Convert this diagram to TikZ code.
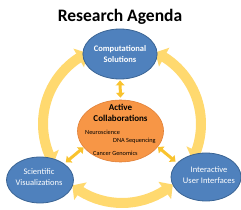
\documentclass[tikz,border=0pt]{standalone}
\usepackage{fontspec}
\setmainfont{Carlito}
\usetikzlibrary{arrows.meta,bending,calc,shapes.geometric}
\definecolor{blueF}{HTML}{4F81BD}
\definecolor{blueD}{HTML}{3A6494}
\definecolor{orangeF}{HTML}{F79646}
\definecolor{orangeD}{HTML}{E07F35}
\definecolor{ringY}{HTML}{FFD96F}
\definecolor{smallY}{HTML}{F9C32E}
\tikzset{
  bluebox/.style={ellipse, fill=blueF, draw=blueD, line width=0.8pt, inner sep=0pt},
  ring/.style={draw=ringY, line width=10pt, {Triangle[width=21pt,length=10pt]}-{Triangle[width=21pt,length=10pt]}},
  smallarrow/.style={draw=smallY, line width=3pt, {Triangle[width=8.5pt,length=5pt]}-{Triangle[width=8.5pt,length=5pt]}},
  wtext/.style={text=white, align=center, font=\fontsize{8.5}{11}\selectfont},
  small/.style={font=\fontsize{6.3}{7}\selectfont, inner sep=0pt}
}
\begin{document}
\begin{tikzpicture}[x=1pt,y=1pt]
\useasboundingbox (0,0) rectangle (241,209);
\coordinate (cc) at (122,85);
% big ring arcs
\draw[ring] ($(cc)+(116:79)$) arc[start angle=116, end angle=210, radius=79];
\draw[ring] ($(cc)+(231:79)$) arc[start angle=231, end angle=310, radius=79];
\draw[ring] ($(cc)+(333:79)$) arc[start angle=333, end angle=425, radius=79];
% title
\node (title) at (120,192) {\fontsize{17.5}{20}\selectfont\bfseries Research Agenda};
% ellipses
\node[bluebox, minimum width=66pt, minimum height=50pt, wtext] (top) at (120,155) {\bfseries Computational\\\bfseries Solutions};
\node[bluebox, minimum width=67pt, minimum height=46pt] (left) at (40,29) {};
\node[wtext] (lefttext) at (39,31.5) {Scientific\\Visualizations};
\node[bluebox, minimum width=70pt, minimum height=48pt] (right) at (206,32) {};
\node[wtext] (righttext) at (209,34) {Interactive\\User Interfaces};
\node[ellipse, fill=orangeF, draw=orangeD, line width=0.6pt, minimum width=86pt, minimum height=62pt, inner sep=0pt] (mid) at (120.5,78) {};
\node[align=center, font=\fontsize{9}{10.5}\selectfont\bfseries] (midtitle) at (120.5,96) {Active\\Collaborations};
\node[small, anchor=west] (neuro) at (85,77) {Neuroscience};
\node[small, anchor=west] (dna) at (113,68) {DNA Sequencing};
\node[small, anchor=west] (cancer) at (93,56) {Cancer Genomics};
% small arrows
\draw[smallarrow, shorten <=2pt, shorten >=1pt] (mid.north) -- (top.south);
\draw[smallarrow, shorten >=2pt] (mid.204) -- (left.34);
\draw[smallarrow, shorten >=2pt] (mid.337) -- (right.154);
\end{tikzpicture}
\end{document}
